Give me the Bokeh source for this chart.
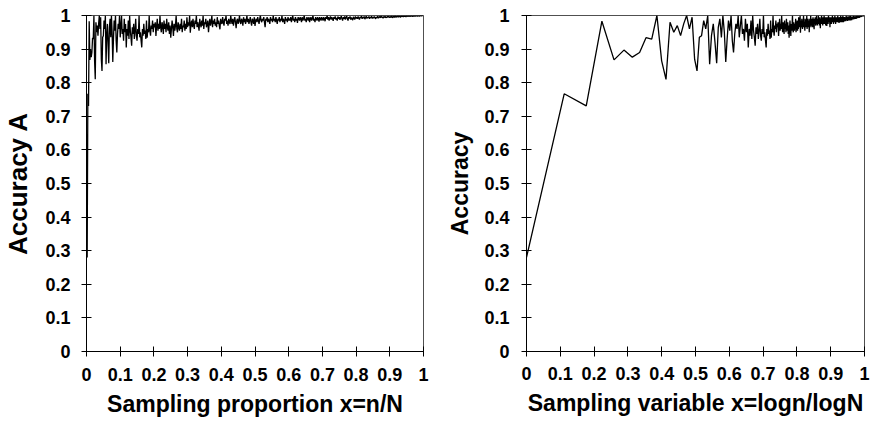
import math
from bokeh.plotting import figure
from bokeh.models import Range1d, FixedTicker, CustomJSTickFormatter
from bokeh.layouts import row
from bokeh.embed import file_html
from bokeh.resources import INLINE

# Population size and sample sizes n = 1..N
N = 500

# Accuracy A for each sample size n
acc_1_50 = [
    0.280, 0.767, 0.731, 0.983, 0.868, 0.897, 0.876, 0.890, 0.934, 0.930,
    1.000, 0.865, 0.810, 0.980, 0.950, 0.970, 0.940, 0.975, 1.000, 0.960,
    0.995, 0.870, 0.835, 0.935, 0.940, 0.985, 0.960, 1.000, 0.855, 0.940,
    0.975, 0.920, 0.858, 0.965, 0.990, 0.935, 1.000, 0.950, 0.862, 0.930,
    0.985, 0.955, 1.000, 0.925, 0.890, 0.945, 0.975, 0.960, 1.000, 0.935]
acc_51_100 = [
    0.970, 1.000, 0.945, 0.960, 0.925, 0.990, 0.950, 0.975, 0.905, 0.960,
    0.940, 0.985, 0.930, 1.000, 0.955, 0.935, 0.910, 0.965, 0.945, 0.975,
    0.930, 0.955, 0.990, 0.940, 0.925, 0.960, 0.945, 1.000, 0.935, 0.950,
    0.925, 0.905, 0.960, 0.940, 0.975, 0.945, 0.955, 0.930, 0.985, 0.934,
    0.960, 0.950, 1.000, 0.955, 0.940, 0.970, 0.960, 0.985, 0.950, 0.975]
acc_101_150 = [
    0.965, 0.980, 0.939, 0.970, 0.990, 0.955, 0.975, 0.960, 1.000, 0.965,
    0.950, 0.980, 0.970, 0.945, 0.985, 0.960, 0.975, 0.950, 0.990, 0.965,
    0.955, 0.980, 0.945, 0.970, 0.934, 0.960, 0.985, 0.965, 0.939, 0.975,
    0.955, 0.970, 1.000, 0.960, 0.950, 0.980, 0.965, 0.955, 0.975, 0.960,
    0.990, 0.950, 0.970, 0.965, 0.985, 0.955, 0.975, 0.960, 0.995, 0.965]
acc_151_200 = [
    0.980, 0.970, 1.000, 0.949, 0.975, 0.985, 0.965, 0.990, 0.970, 0.960,
    0.985, 0.975, 1.000, 0.965, 0.980, 0.970, 0.955, 0.990, 0.975, 0.965,
    0.985, 0.970, 1.000, 0.960, 0.980, 0.975, 0.990, 0.965, 0.975, 0.985,
    0.950, 0.975, 0.990, 0.970, 0.980, 1.000, 0.965, 0.985, 0.975, 0.990,
    0.970, 0.980, 0.965, 0.995, 0.975, 0.985, 0.970, 0.959, 0.990, 0.980]
acc_201_250 = [
    0.975, 0.995, 0.980, 0.970, 0.990, 0.985, 1.000, 0.975, 0.985, 0.970,
    0.990, 0.980, 0.975, 1.000, 0.985, 0.975, 0.990, 0.970, 0.985, 0.995,
    0.980, 0.962, 0.985, 0.990, 0.975, 0.985, 1.000, 0.980, 0.975, 0.990,
    0.985, 0.970, 0.995, 0.980, 0.990, 0.975, 0.985, 1.000, 0.980, 0.990,
    0.975, 0.985, 0.995, 0.980, 0.970, 0.990, 0.985, 0.975, 0.995, 0.969]
acc_251_300 = [
    0.985, 0.990, 0.980, 0.995, 0.985, 0.975, 0.990, 1.000, 0.985, 0.980,
    0.990, 0.985, 0.995, 0.980, 0.965, 0.990, 0.985, 0.995, 0.980, 0.990,
    0.985, 0.975, 0.995, 0.985, 0.990, 0.980, 1.000, 0.985, 0.990, 0.980,
    0.995, 0.985, 0.975, 0.990, 0.985, 0.995, 0.980, 0.990, 0.985, 1.000,
    0.980, 0.990, 0.985, 0.975, 0.995, 0.985, 0.990, 0.980, 0.995, 0.985]
acc_301_350 = [
    0.990, 0.985, 0.995, 0.980, 0.990, 1.000, 0.985, 0.990, 0.980, 0.995,
    0.985, 0.990, 0.978, 0.995, 0.990, 0.985, 0.995, 0.990, 0.980, 0.995,
    0.985, 0.990, 1.000, 0.985, 0.990, 0.980, 0.995, 0.990, 0.985, 0.995,
    0.980, 0.990, 0.995, 0.985, 0.990, 1.000, 0.985, 0.990, 0.980, 0.995,
    0.990, 0.985, 0.995, 0.990, 0.982, 0.995, 0.990, 0.985, 0.995, 0.990]
acc_351_400 = [
    0.985, 0.995, 0.990, 0.983, 0.995, 0.990, 1.000, 0.988, 0.995, 0.985,
    0.992, 0.997, 0.988, 0.995, 0.990, 0.984, 0.995, 0.990, 0.997, 0.988,
    0.993, 0.985, 0.997, 0.990, 0.995, 0.987, 0.993, 0.998, 0.990, 0.985,
    0.995, 0.990, 0.997, 0.988, 0.993, 0.999, 0.990, 0.985, 0.995, 0.991,
    0.997, 0.988, 0.994, 0.990, 0.986, 0.996, 0.992, 0.988, 0.997, 0.991]
acc_401_450 = [
    0.995, 0.990, 0.997, 0.992, 0.988, 0.996, 0.993, 0.999, 0.990, 0.995,
    0.992, 0.997, 0.989, 0.994, 0.998, 0.991, 0.995, 0.993, 0.997, 0.990,
    0.996, 0.993, 0.998, 0.991, 0.995, 0.992, 0.997, 0.994, 0.990, 0.996,
    0.993, 0.998, 0.992, 0.995, 0.997, 0.993, 0.999, 0.994, 0.996, 0.992,
    0.997, 0.994, 0.998, 0.993, 0.996, 0.994, 0.998, 0.995, 0.997, 0.994]
acc_451_500 = [
    0.997, 0.995, 0.999, 0.993, 0.996, 0.998, 0.994, 0.999, 0.995, 0.997,
    0.996, 0.999, 0.995, 0.998, 0.997, 0.995, 0.999, 0.997, 0.998, 0.996,
    0.999, 0.997, 0.998, 0.996, 0.999, 0.998, 0.997, 0.999, 0.998, 0.997,
    0.999, 0.998, 0.999, 0.997, 0.999, 0.998, 0.999, 0.998, 0.999, 0.999,
    0.998, 0.999, 0.999, 0.998, 0.999, 1.000, 0.999, 1.000, 1.000, 1.000]

tick_values = [0, 0.1, 0.2, 0.3, 0.4, 0.5, 0.6, 0.7, 0.8, 0.9, 1]

left_xlabel = "Sampling proportion x=n/N"
left_ylabel = "Accuracy A"
right_xlabel = "Sampling variable x=logn/logN"
right_ylabel = "Accuracy"

accuracy = (acc_1_50 + acc_51_100 + acc_101_150 + acc_151_200 + acc_201_250 +
            acc_251_300 + acc_301_350 + acc_351_400 + acc_401_450 + acc_451_500)
sizes = list(range(1, N + 1))
x_prop = [n / N for n in sizes]
x_log = [math.log(n) / math.log(N) for n in sizes]

FONT = "Liberation Sans"


def make_panel(xs, ys, xlabel, ylabel, width, height, bl, bt, br, bb,
               x_std, x_lstd, y_std, y_lstd, ytitle_size):
    p = figure(width=width, height=height, output_backend="svg",
               toolbar_location=None, x_range=Range1d(0, 1),
               y_range=Range1d(0, 1), min_border_left=bl, min_border_top=bt,
               min_border_right=br, min_border_bottom=bb)
    p.line(xs, ys, line_color="black", line_width=1.3)
    p.grid.visible = False
    p.outline_line_color = "#505050"
    p.outline_line_width = 1
    p.background_fill_color = "white"
    p.border_fill_color = "white"
    for ax in (p.xaxis[0], p.yaxis[0]):
        ax.ticker = FixedTicker(ticks=tick_values)
        ax.formatter = CustomJSTickFormatter(
            code="return String(Math.round(tick * 10) / 10);")
        ax.major_tick_in = 5
        ax.major_tick_out = 5
        ax.minor_tick_line_color = None
        ax.axis_line_color = "black"
        ax.major_tick_line_color = "black"
        ax.major_label_text_font = FONT
        ax.major_label_text_font_style = "bold"
        ax.major_label_text_font_size = "18px"
        ax.major_label_text_color = "black"
        ax.axis_label_text_font = FONT
        ax.axis_label_text_font_style = "bold"
        ax.axis_label_text_font_size = "23px"
        ax.axis_label_text_color = "black"
    p.xaxis.axis_label = xlabel
    p.yaxis.axis_label = ylabel
    p.yaxis.axis_label_text_font_size = ytitle_size
    p.xaxis.major_label_standoff = x_std
    p.xaxis.axis_label_standoff = x_lstd
    p.yaxis.major_label_standoff = y_std
    p.yaxis.axis_label_standoff = y_lstd
    return p


p1 = make_panel(x_prop, accuracy, left_xlabel, left_ylabel,
                444, 428, 82, 11, 21, 77, 11, 7, 11, 9, "26px")
p2 = make_panel(x_log, accuracy, right_xlabel, right_ylabel,
                426, 428, 79, 15, 6, 72, 10, 7, 12, 8, "23px")

layout = row(p1, p2)
open("out.html", "w").write(file_html(layout, INLINE))
